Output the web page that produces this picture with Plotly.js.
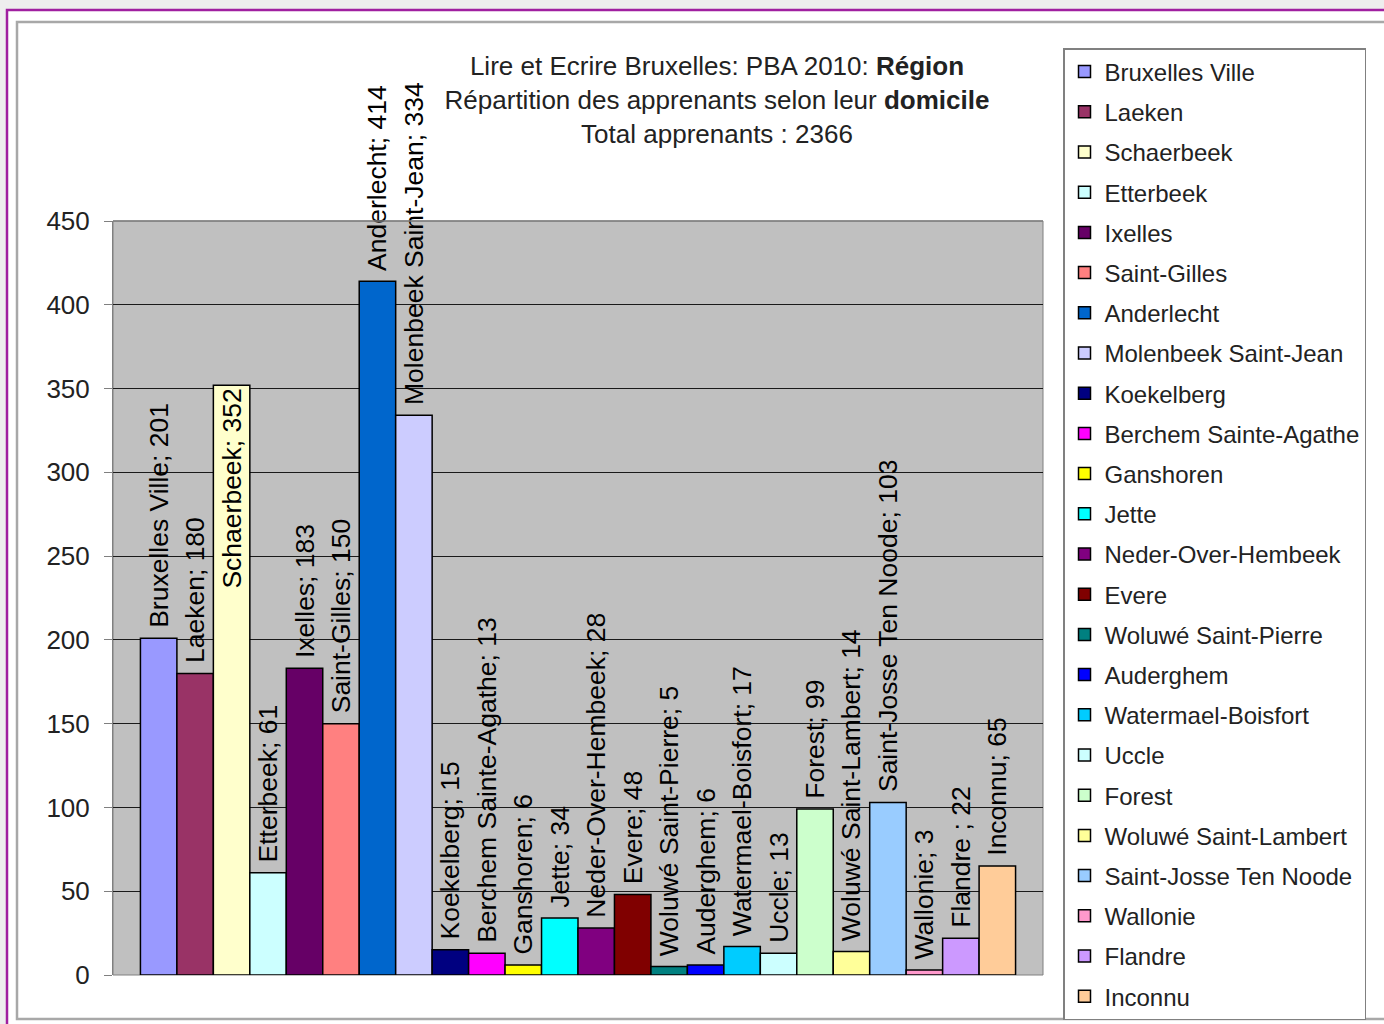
<!DOCTYPE html>
<html><head><meta charset="utf-8">
<script src="https://cdn.plot.ly/plotly-3.0.1.min.js"></script>
<style>html,body{margin:0;padding:0;background:#eeeeee;}#chart{width:1384px;height:1024px;}</style>
</head><body><div id="chart"></div>
<script>
const categories = ["Bruxelles Ville","Laeken","Schaerbeek","Etterbeek","Ixelles","Saint-Gilles","Anderlecht","Molenbeek Saint-Jean","Koekelberg","Berchem Sainte-Agathe","Ganshoren","Jette","Neder-Over-Hembeek","Evere","Woluwé Saint-Pierre","Auderghem","Watermael-Boisfort","Uccle","Forest","Woluwé Saint-Lambert","Saint-Josse Ten Noode","Wallonie","Flandre","Inconnu"];
const labelNames = ["Bruxelles Ville","Laeken","Schaerbeek","Etterbeek","Ixelles","Saint-Gilles","Anderlecht","Molenbeek Saint-Jean","Koekelberg","Berchem Sainte-Agathe","Ganshoren","Jette","Neder-Over-Hembeek","Evere","Woluwé Saint-Pierre","Auderghem","Watermael-Boisfort","Uccle","Forest","Woluwé Saint-Lambert","Saint-Josse Ten Noode","Wallonie","Flandre ","Inconnu"];
const values = [201,180,352,61,183,150,414,334,15,13,6,34,28,48,5,6,17,13,99,14,103,3,22,65];
const colors = ["#9999FF","#993366","#FFFFCC","#CCFFFF","#660066","#FF8080","#0066CC","#CCCCFF","#000080","#FF00FF","#FFFF00","#00FFFF","#800080","#800000","#008080","#0000FF","#00CCFF","#CCFFFF","#CCFFCC","#FFFF99","#99CCFF","#FF99CC","#CC99FF","#FFCC99"];
const yTicks = [0,50,100,150,200,250,300,350,400,450];
// label drawn inside the top of its bar (as in the original, where it overlapped the bar)
const insideLabel = ["Schaerbeek"];

const FONT = '"Liberation Sans", Arial, sans-serif';
const W = 1384, H = 1024;
const M = {l:113, r:W-1043, t:221, b:H-975};
const PW = W - M.l - M.r, PH = H - M.t - M.b;
const px = v => (v - M.l) / PW;
const py = v => (H - M.b - v) / PH;

const traces = categories.map((c,i) => {
  const inside = insideLabel.includes(c);
  return {
    type:'bar',
    name:c,
    legendgroup:'g'+i,
    x:['R'],
    y:[values[i]],
    text:[(inside ? '' : '\u00A0') + labelNames[i] + '; ' + values[i]],
    textposition: inside ? 'inside' : 'outside',
    insidetextanchor:'end',
    textangle:-90,
    constraintext:'none',
    cliponaxis:false,
    outsidetextfont:{family:FONT, size:26.5, color:'#000'},
    insidetextfont:{family:FONT, size:26.5, color:'#000'},
    marker:{color:colors[i], line:{color:'#000', width:1.5}},
    hoverinfo:'skip'
  };
});

const layout = {
  width:W, height:H,
  margin:M,
  paper_bgcolor:'#eeeeee',
  plot_bgcolor:'rgba(0,0,0,0)',
  barmode:'group',
  bargap:0.059,
  bargroupgap:0,
  font:{family:FONT, color:'#222'},
  title:{
    text:'Lire et Ecrire Bruxelles: PBA 2010: <b>Région</b><br>Répartition des apprenants selon leur <b>domicile</b><br>Total apprenants : 2366',
    font:{family:FONT, size:26, color:'#222'},
    xref:'container', yref:'container',
    x:717/W, xanchor:'center',
    y:1-75/H, yanchor:'top'
  },
  xaxis:{showticklabels:false, showgrid:false, zeroline:false, showline:false, ticks:'', fixedrange:true},
  yaxis:{
    range:[0,450], tickvals:yTicks, ticktext:yTicks.map(String),
    showgrid:true, gridcolor:'#1a1a1a', gridwidth:1,
    zeroline:false, showline:true, linecolor:'#808080', linewidth:1,
    ticks:'outside', ticklen:8, tickcolor:'#808080', tickwidth:1,
    ticklabelstandoff:9,
    tickfont:{family:FONT, size:26, color:'#222'}, fixedrange:true
  },
  legend:{
    x:px(1063), xanchor:'left', y:py(48), yanchor:'top',
    bgcolor:'#ffffff', bordercolor:'#808080', borderwidth:1.5,
    font:{family:FONT, size:24, color:'#222'},
    tracegroupgap:6, traceorder:'grouped', maxheight:1000,
    entrywidth:300, entrywidthmode:'pixels'
  },
  shapes:[
    {type:'rect', xref:'paper', yref:'paper', layer:'below', x0:px(7), x1:px(1400), y0:py(10), y1:py(1030), fillcolor:'#ffffff', line:{color:'#a020a0', width:2.5}},
    {type:'rect', xref:'paper', yref:'paper', layer:'below', x0:px(17), x1:px(1400), y0:py(22), y1:py(1019), fillcolor:'rgba(0,0,0,0)', line:{color:'#a8a8a8', width:2.5}},
    {type:'rect', xref:'paper', yref:'paper', layer:'below', x0:0, x1:1, y0:0, y1:1, fillcolor:'#c0c0c0', line:{color:'#808080', width:1}},
    {type:'line', xref:'paper', yref:'paper', layer:'above', x0:0, x1:1, y0:1, y1:1, line:{color:'#808080', width:1.5}}
  ]
};

Plotly.newPlot('chart', traces, layout, {displayModeBar:false, staticPlot:true});
</script></body></html>
